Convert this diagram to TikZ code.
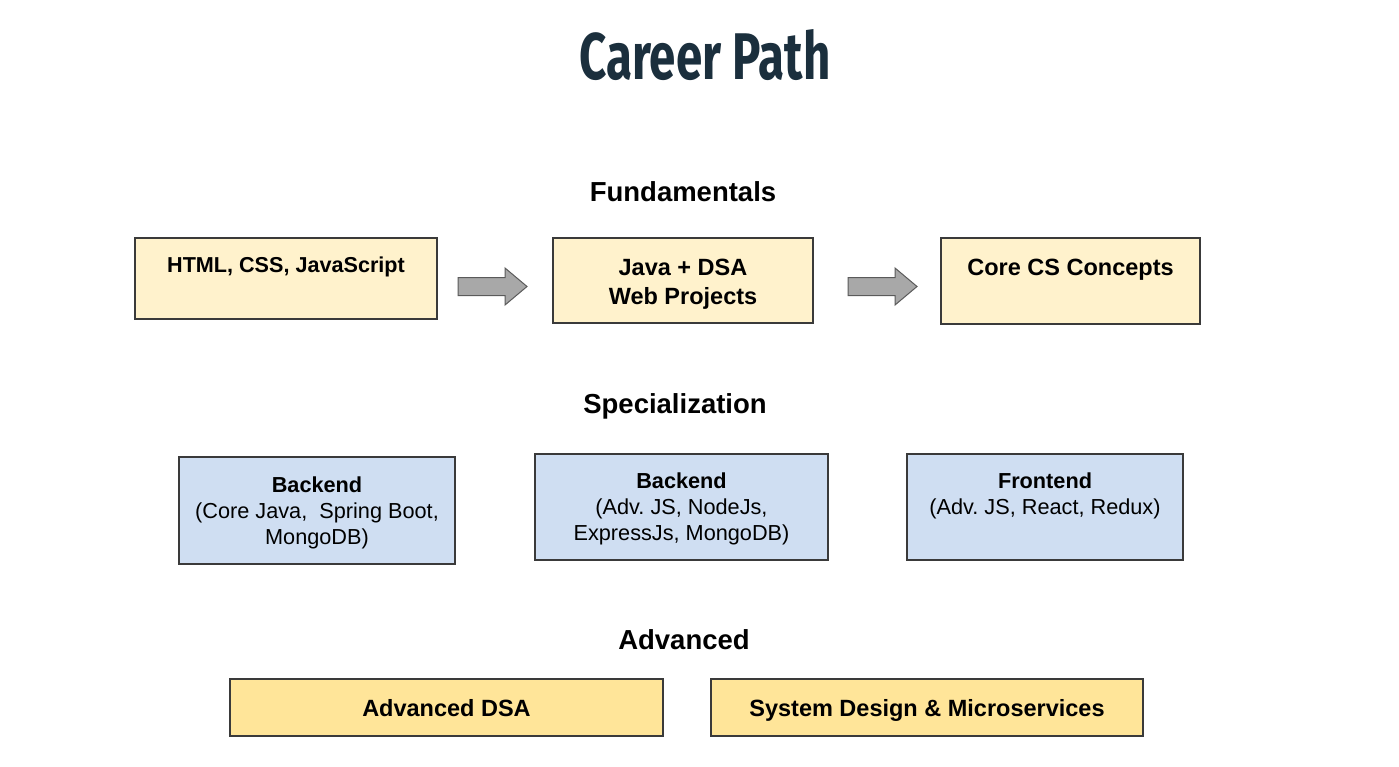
\documentclass[tikz,border=0pt]{standalone}
\usepackage{fontspec}
\setmainfont{Liberation Sans}
\newfontfamily\titlefont[FakeStretch=0.72]{Fira Sans}
\frenchspacing
\definecolor{ttl}{HTML}{1B2F3D}
\definecolor{ylw}{HTML}{FFF2CC}
\definecolor{ylwd}{HTML}{FFE599}
\definecolor{blu}{HTML}{CFDEF2}
\definecolor{brd}{HTML}{3A3A3A}
\definecolor{arf}{HTML}{A8A8A8}
\definecolor{ard}{HTML}{5A5A5A}
\tikzset{
  box/.style={draw=brd, line width=1.2pt, inner sep=0pt},
  btxt/.style={font=\fontsize{21.7}{26}\selectfont, align=center, inner sep=0pt, text=black},
  bbold/.style={btxt, font=\bfseries\fontsize{23.5}{29}\selectfont},
  sect/.style={font=\bfseries\fontsize{27.5}{32}\selectfont, inner sep=0pt},
  garrow/.style={draw=ard, fill=arf, line width=1pt, line join=miter}
}
\newcommand\grayarrow[1]{%
  \draw[garrow, shift={(#1)}] (-34.5,-9) -- (12.5,-9) -- (12.5,-18.5) -- (34.5,0)
    -- (12.5,18.5) -- (12.5,9) -- (-34.5,9) -- cycle;}
\begin{document}
\begin{tikzpicture}[x=1pt,y=-1pt]
\useasboundingbox (0,0) rectangle (1399,766);
\fill[white] (0,0) rectangle (1399,766);
% title
\node[text=ttl, font=\titlefont\bfseries\fontsize{66}{70}\selectfont, inner sep=0pt] (title) at (705,55) {Career Path};
% section labels
\node[sect] (fund) at (683,192) {Fundamentals};
\node[sect] (spec) at (675,406) {Specialization};
\node[sect] (adv) at (684,640) {Advanced};
% fundamentals boxes
\node[box, fill=ylw, minimum width=302pt, minimum height=81pt] (html) at (286,278.5) {};
\node[box, fill=ylw, minimum width=260pt, minimum height=85pt] (java) at (683,280.5) {};
\node[box, fill=ylw, minimum width=259pt, minimum height=86pt] (core) at (1070.5,281) {};
\node[btxt, font=\bfseries\fontsize{21.6}{26}\selectfont] (htmlt) at (286,267) {HTML, CSS, JavaScript};
\node[bbold] (javat) at (683,284) {Java + DSA\\Web Projects};
\node[bbold] (coret) at (1070.5,270) {Core CS Concepts};
% arrows
\coordinate (a1) at (492.5,286.5);
\coordinate (a2) at (882.5,286.5);
\grayarrow{a1}
\grayarrow{a2}
% specialization boxes
\node[box, fill=blu, minimum width=276pt, minimum height=107pt] (be1) at (317,510.5) {};
\node[box, fill=blu, minimum width=293pt, minimum height=106pt] (be2) at (681.5,507) {};
\node[box, fill=blu, minimum width=276pt, minimum height=106pt] (fe) at (1045,507) {};
\node[btxt] (be1t) at (317,513) {\textbf{Backend}\\(Core Java,~ Spring Boot,\\MongoDB)};
\node[btxt] (be2t) at (681.5,509) {\textbf{Backend}\\(Adv. JS, NodeJs,\\ExpressJs, MongoDB)};
\node[btxt] (fet) at (1045,496) {\textbf{Frontend}\\(Adv. JS, React, Redux)};
% advanced boxes
\node[box, fill=ylwd, minimum width=433pt, minimum height=57pt] (dsa) at (446.5,707.5) {};
\node[box, fill=ylwd, minimum width=432pt, minimum height=57pt] (sd) at (927,707.5) {};
\node[bbold] (dsat) at (446.5,708.5) {Advanced DSA};
\node[bbold] (sdt) at (927,710) {System Design \& Microservices};
\end{tikzpicture}
\end{document}
